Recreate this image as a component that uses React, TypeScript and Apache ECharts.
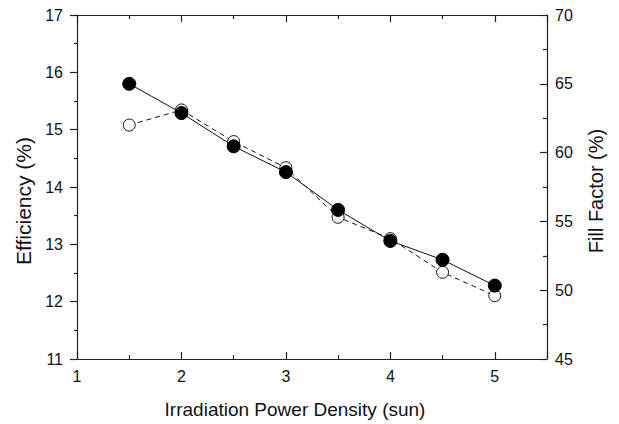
import React, { useEffect, useRef } from "react";
import * as echarts from "echarts";

const irradiation = [1.5, 2, 2.5, 3, 3.5, 4, 4.5, 5];
const efficiency = [15.8, 15.29, 14.71, 14.26, 13.6, 13.06, 12.73, 12.28];
const fillFactor = [62.0, 63.1, 60.8, 58.9, 55.3, 53.75, 51.3, 49.6];

const FONT = "Liberation Sans, Arial, Helvetica, sans-serif";

export default function App() {
  const ref = useRef<HTMLDivElement>(null);
  useEffect(() => {
    if (!ref.current) return;
    const chart = echarts.init(ref.current, null, { renderer: "svg" });
    const axisLine = { show: true, onZero: false, lineStyle: { color: "#222", width: 1.2 } };
    const tick = { show: true, inside: true, length: 7, lineStyle: { color: "#222", width: 1.2 } };
    const tickOut = { show: true, inside: false, length: 7, lineStyle: { color: "#222", width: 1.2 } };
    const minor = { show: true, splitNumber: 2, length: 4, lineStyle: { color: "#222", width: 1.2 } };
    const label = { color: "#111", fontSize: 16, fontFamily: FONT };
    chart.setOption({
      animation: false,
      backgroundColor: "#fff",
      grid: { left: 77, right: 72, top: 15, bottom: 63, containLabel: false },
      xAxis: [
        {
          type: "value",
          min: 1,
          max: 5.5,
          interval: 1,
          position: "bottom",
          axisLine,
          axisTick: tick,
          minorTick: minor,
          splitLine: { show: false },
          axisLabel: { ...label, margin: 9, showMaxLabel: false, formatter: (v: number) => (Number.isInteger(v) ? String(v) : "") },
          name: "Irradiation Power Density (sun)",
          nameLocation: "middle",
          nameGap: 41,
          nameTextStyle: { color: "#111", fontSize: 19, fontFamily: FONT, padding: [0, 34, 0, 0] },
        },
        {
          type: "value",
          min: 1,
          max: 5.5,
          interval: 1,
          position: "top",
          axisLine,
          axisTick: tick,
          minorTick: minor,
          splitLine: { show: false },
          axisLabel: { show: false },
        },
      ],
      yAxis: [
        {
          type: "value",
          min: 11,
          max: 17,
          interval: 1,
          position: "left",
          axisLine,
          axisTick: tickOut,
          minorTick: { ...minor, length: 3 },
          splitLine: { show: false },
          axisLabel: { ...label, margin: 14 },
          name: "Efficiency (%)",
          nameLocation: "middle",
          nameGap: 41,
          nameTextStyle: { color: "#111", fontSize: 21, fontFamily: FONT, padding: [0, 28, 0, 0] },
        },
        {
          type: "value",
          min: 45,
          max: 70,
          interval: 5,
          position: "right",
          axisLine,
          axisTick: tick,
          minorTick: minor,
          splitLine: { show: false },
          axisLabel: { ...label, margin: 8 },
          name: "Fill Factor (%)",
          nameLocation: "middle",
          nameGap: 39,
          nameRotate: 90,
          nameTextStyle: { color: "#111", fontSize: 20, fontFamily: FONT, padding: [0, 8, 0, 0] },
        },
      ],
      series: [
        {
          name: "Fill Factor",
          type: "line",
          xAxisIndex: 0,
          yAxisIndex: 1,
          data: irradiation.map((x, i) => [x, fillFactor[i]]),
          symbol: "circle",
          symbolSize: 12,
          lineStyle: { color: "#111", width: 1, type: [5, 4] },
          itemStyle: { color: "#fff", borderColor: "#111", borderWidth: 1 },
          z: 2,
        },
        {
          name: "Efficiency",
          type: "line",
          xAxisIndex: 0,
          yAxisIndex: 0,
          data: irradiation.map((x, i) => [x, efficiency[i]]),
          symbol: "circle",
          symbolSize: 13,
          lineStyle: { color: "#111", width: 1 },
          itemStyle: { color: "#000", borderColor: "#000", borderWidth: 1 },
          z: 3,
        },
      ],
    });
    return () => chart.dispose();
  }, []);
  return <div ref={ref} style={{ width: 619, height: 424, position: "absolute", left: 0, top: 0 }} />;
}
